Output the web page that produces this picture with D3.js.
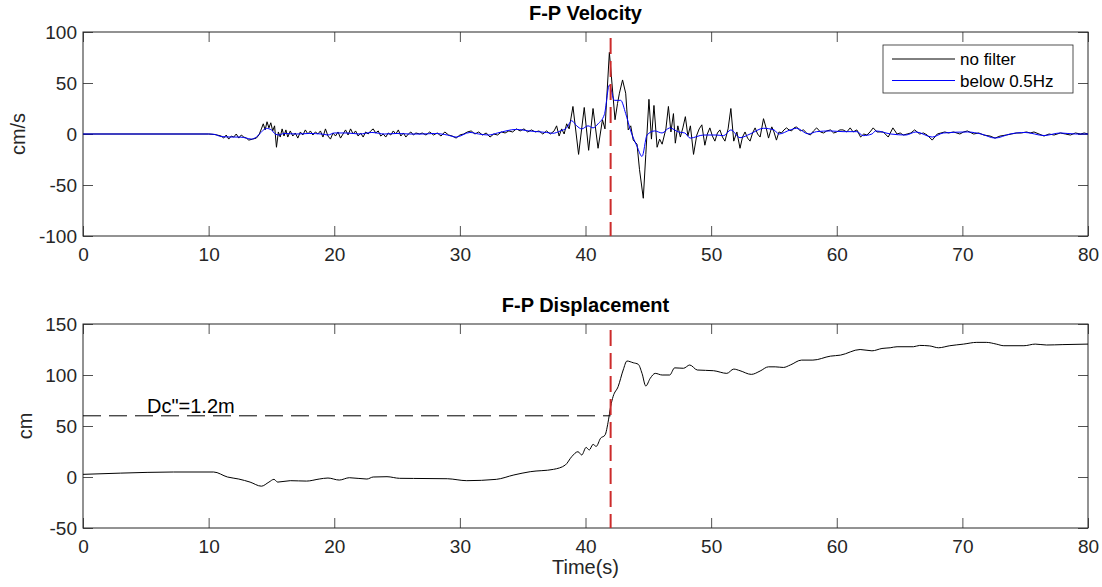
<!DOCTYPE html>
<html>
<head>
<meta charset="utf-8">
<script src="https://cdn.jsdelivr.net/npm/d3@7"></script>
<style>
  body { margin: 0; background: #fff; }
  svg { font-family: "Liberation Sans", Arial, Helvetica, sans-serif; }
</style>
</head>
<body>
<svg id="chart" width="1102" height="587"></svg>
<script>
// ---------------- data ----------------
const timeTicks = [0, 10, 20, 30, 40, 50, 60, 70, 80];
const velTicks = [-100, -50, 0, 50, 100];
const dispTicks = [-50, 0, 50, 100, 150];
const seriesNames = ["no filter", "below 0.5Hz"];
const pickTime = 42;     // red dashed line
const dcLevel = 60;      // Dc'' level, cm
const dcLabel = 'Dc"=1.2m';

// [time s, velocity cm/s], unfiltered
const rawVelocity = [
  [0,0],[10,0],[10.5,-0.5],[11,-2],[11.2,-4],[11.4,-1],[11.6,-5],[11.8,-2],[12.0,-3],[12.2,0],
  [12.4,-4],[12.6,-1],[12.8,-3],[13.0,-4],[13.2,-6],[13.5,-5],[13.8,-4],[14.0,-1],[14.2,5],[14.35,10],
  [14.5,4],[14.65,12],[14.8,6],[14.95,11],[15.1,3],[15.25,8],[15.4,-13],[15.55,2],[15.7,-3],[15.85,5],
  [16.0,-2],[16.15,4],[16.3,-3],[16.5,3],[16.7,-2],[16.9,1],[17.1,-4],[17.3,2],[17.5,-1],[17.7,4],
  [17.9,0],[18.1,3],[18.3,-1],[18.5,2],[18.7,0],[18.9,3],[19.1,-3],[19.3,5],[19.5,-2],[19.7,-5],
  [19.9,1],[20.1,-2],[20.3,2],[20.5,-4],[20.7,0],[20.9,4],[21.1,-1],[21.3,5],[21.5,0],[21.7,3],
  [21.9,-2],[22.1,1],[22.3,-3],[22.5,2],[22.7,0],[22.9,3],[23.1,5],[23.3,1],[23.5,3],[23.7,-2],
  [23.9,0],[24.1,-3],[24.3,1],[24.5,-1],[24.7,3],[24.9,0],[25.1,4],[25.3,-2],[25.5,1],[25.7,-3],
  [25.9,0],[26.1,2],[26.3,-1],[26.5,1],[26.8,0],[27.0,1],[27.3,-1],[27.6,2],[27.9,-1],[28.2,1],
  [28.5,-2],[28.8,2],[29.1,-1],[29.4,-2],[29.7,-4],[30.0,-1],[30.3,0],[30.6,2],[30.9,3],[31.2,0],
  [31.5,2],[31.8,-1],[32.1,1],[32.4,-3],[32.7,0],[33.0,-1],[33.3,2],[33.6,1],[33.9,3],[34.2,2],
  [34.5,5],[34.8,3],[35.1,5],[35.4,2],[35.7,4],[36.0,2],[36.3,3],[36.6,0],[36.9,3],[37.2,0],
  [37.5,3],[37.7,8],[37.9,-2],[38.1,5],[38.3,0],[38.5,10],[38.7,5],[39.0,27],[39.45,-20],[39.9,26],
  [40.25,-16],[40.6,25],[41.0,-14],[41.35,14],[41.55,5],[41.9,80],[42.35,14],[42.55,30],[42.7,40],[42.95,53],
  [43.2,40],[43.4,4],[43.6,8],[43.8,-6],[44.1,-10],[44.3,-35],[44.6,-63],[44.8,-20],[45.05,34],[45.25,-5],
  [45.45,28],[45.7,-13],[45.9,-5],[46.1,-10],[46.4,5],[46.6,27],[46.8,2],[47.0,20],[47.15,-9],[47.35,8],
  [47.55,-3],[47.75,6],[47.95,17],[48.15,-2],[48.35,8],[48.6,-20],[48.86,-1],[49.05,5],[49.26,9],[49.5,-11],
  [49.7,0],[49.9,6],[50.1,-2],[50.3,-7],[50.5,1],[50.7,4],[50.9,-3],[51.1,-7],[51.35,5],[51.57,25],
  [51.8,-7],[52.05,2],[52.3,-14],[52.5,-3],[52.7,2],[52.9,-4],[53.1,-7],[53.3,1],[53.5,6],[53.7,0],
  [53.9,-3],[54.17,15],[54.4,5],[54.57,-4],[54.83,7],[55.0,2],[55.2,-6],[55.4,2],[55.6,1],[55.8,4],
  [56.0,6],[56.2,4],[56.4,3],[56.6,6],[56.8,7],[57.1,3],[57.35,4],[57.6,1],[57.9,-1],[58.15,3],
  [58.4,6],[58.7,2],[58.95,1],[59.2,3],[59.5,4],[59.75,1],[60.0,2],[60.25,4],[60.5,4],[60.8,2],
  [61.07,6],[61.3,2],[61.6,4],[61.9,-3],[62.15,0],[62.4,-1],[62.65,2],[62.9,6],[63.2,2],[63.5,2],
  [63.7,2],[64.1,-3],[64.47,6],[64.8,0],[65.05,1],[65.3,-1],[65.6,0],[65.9,1],[66.2,4],[66.6,0],
  [66.9,1],[67.2,-1],[67.6,-6],[68.0,0],[68.3,1],[68.6,2],[68.9,1],[69.3,2],[69.8,0],[70.1,2],
  [70.4,3],[70.9,0],[71.3,1],[71.7,-1],[72.2,-2],[72.6,-4],[73.0,-2],[73.5,-1],[73.9,0],[74.3,1],
  [74.7,1],[75.1,2],[75.4,1],[75.7,2],[76.1,0],[76.5,-2],[76.9,0],[77.3,-1],[77.8,1],[78.2,0],
  [78.6,-1],[79.0,1],[79.4,0],[79.7,1],[80,0]
];

// [time s, velocity cm/s], low-passed below 0.5 Hz
const lowVelocity = [
  [0,0],[10,0],[10.5,-0.5],[11,-2.5],[12,-3],[12.5,-3],[13,-4],[13.4,-5],[13.8,-3],[14.2,2],
  [14.6,5.5],[15.0,4],[15.3,0],[15.6,-1],[16,0.5],[17,0],[18,0.5],[19,0],[19.5,-1],[20,1],
  [21,1],[22,0],[23,1.5],[24,0],[25,0.5],[26,0],[27,0],[28,0.5],[29,-1],[29.7,-3],
  [30.8,1.5],[31.5,0],[32.3,-1],[33,1],[34.5,4.5],[35.5,3],[36.9,1.5],[37.4,0.7],[38,3],[38.5,6],
  [38.9,13],[39.3,8],[39.7,5],[40.2,8],[40.6,6],[41.0,10],[41.5,19],[41.9,48],[42.3,33],[42.8,33],
  [43.2,20],[43.6,3],[44.1,-12],[44.5,-22],[44.9,-1],[45.5,3],[46.1,1],[46.7,6],[47.4,2],[47.9,1],
  [48.33,-4],[49.4,-1],[50.4,-1],[51.0,-1.6],[51.57,4],[52.3,-3.6],[53.1,0],[54.17,5.6],[55.0,4],[55.4,0],
  [56.3,4],[56.8,5.6],[57.75,0],[58.4,2.3],[59.5,3],[60.5,2.3],[61.6,2.3],[62.1,-1.6],[62.8,0],[63.1,3],
  [64.3,0],[65.5,-1],[66.3,2],[67.6,-3],[68.5,1],[70.4,2],[71.5,0],[72.6,-4],[73.8,0],[75,1.5],
  [76.5,-1.5],[77.8,1],[79,0],[80,0]
];

// [time s, displacement cm]
const displacement = [
  [0,2.6],[3,3.8],[7.2,4.9],[10.4,4.9],[11.5,0],[12.4,-2],[13.3,-5],[14.2,-9],[14.8,-5],[15.2,-2.3],
  [15.5,-5],[16.5,-3.6],[17.8,-4],[18.8,-2],[19.5,-1],[20.4,-3],[21.2,-0.7],[22.6,-2],[23.1,0],[24.2,0.3],
  [25.2,-1.3],[26.3,-1.4],[29,-1.7],[30.55,-3.6],[32.9,-2.3],[34.3,2],[35.6,5.2],[37.45,7.5],[38.4,11.8],[38.9,19.9],
  [39.4,24.8],[39.7,21.6],[40.05,29],[40.3,26.5],[40.6,32],[40.85,30],[41.2,38],[41.55,41],[41.83,56],[42.0,69],
  [42.2,79],[42.6,88.7],[43.0,104.9],[43.3,113.7],[43.8,112],[44.2,110.5],[44.5,101.6],[44.8,89.2],[45.15,96.7],[45.55,101.6],
  [46.1,100],[46.7,100],[47.1,107],[47.8,106.6],[48.3,109.8],[48.9,104.9],[50.2,104.2],[51.25,101.6],[51.8,105.8],[52.3,104.2],
  [53.2,100.6],[53.9,103.9],[54.56,108],[55.1,108],[55.75,107.4],[56.3,109.8],[57.2,114.6],[58.1,114.6],[59.5,118.5],[60.3,119.5],
  [61.86,125],[62.8,123.7],[63.6,126],[64.25,126.7],[64.8,127.7],[66.1,127.7],[66.6,129],[67.4,128.5],[68.1,126.7],[69.0,128.7],
  [70.1,130.3],[71.15,132],[71.9,132],[72.7,130.3],[73.3,128.7],[74.9,128.7],[75.8,130.3],[76.7,129.4],[78.0,129.8],[80,130.3]
];

// ---------------- layout ----------------
const left = 83, right = 1088;
const axisColor = "#262626";
const svg = d3.select("#chart");

const x = d3.scaleLinear().domain([0, 80]).range([left, right]);
const yVel = d3.scaleLinear().domain([-100, 100]).range([236, 32]);
const yDisp = d3.scaleLinear().domain([-50, 150]).range([528, 324]);

const plain = d => String(d);   // keep "-" instead of the unicode minus

function drawFrame(y, yTicks, title, ylabel, ylabelX) {
  const top = y.range()[1], bottom = y.range()[0];
  const g = svg.append("g");

  // ticks point inward, like matlab
  g.append("g").attr("transform", "translate(0," + bottom + ")")
    .call(d3.axisBottom(x).tickValues(timeTicks).tickSize(-10).tickPadding(12).tickFormat(plain))
    .call(s => s.select(".domain").remove());
  g.append("g").attr("transform", "translate(0," + top + ")")
    .call(d3.axisTop(x).tickValues(timeTicks).tickSize(-10).tickFormat(""))
    .call(s => s.select(".domain").remove());
  g.append("g").attr("transform", "translate(" + left + ",0)")
    .call(d3.axisLeft(y).tickValues(yTicks).tickSize(-10).tickPadding(6).tickFormat(plain))
    .call(s => s.select(".domain").remove());
  g.append("g").attr("transform", "translate(" + right + ",0)")
    .call(d3.axisRight(y).tickValues(yTicks).tickSize(-10).tickFormat(""))
    .call(s => s.select(".domain").remove());

  g.selectAll(".tick line").attr("stroke", axisColor).attr("stroke-width", 0.8);
  g.selectAll(".tick text").attr("fill", axisColor).attr("font-size", 19)
    .attr("font-family", '"Liberation Sans", Arial, sans-serif');

  g.append("rect")
    .attr("x", left).attr("y", top)
    .attr("width", right - left).attr("height", bottom - top)
    .attr("fill", "none").attr("stroke", axisColor).attr("stroke-width", 1);

  svg.append("text")
    .attr("x", (left + right) / 2).attr("y", top - 12)
    .attr("text-anchor", "middle").attr("font-weight", "bold").attr("font-size", 20)
    .text(title);

  svg.append("text")
    .attr("transform", "translate(" + ylabelX + "," + (top + bottom) / 2 + ")rotate(-90)")
    .attr("text-anchor", "middle").attr("font-size", 20).attr("fill", axisColor)
    .text(ylabel);
}

drawFrame(yVel, velTicks, "F-P Velocity", "cm/s", 25);
drawFrame(yDisp, dispTicks, "F-P Displacement", "cm", 32);

// ---------------- velocity ----------------
const velLine = d3.line().x(d => x(d[0])).y(d => yVel(d[1]));
svg.append("path").datum(rawVelocity)
  .attr("d", velLine).attr("fill", "none").attr("stroke", "#000").attr("stroke-width", 1);
svg.append("path").datum(lowVelocity)
  .attr("d", velLine.curve(d3.curveMonotoneX)).attr("fill", "none")
  .attr("stroke", "#0000ff").attr("stroke-width", 1);

svg.append("line")
  .attr("x1", x(pickTime)).attr("x2", x(pickTime))
  .attr("y1", yVel(100)).attr("y2", yVel(-100))
  .attr("stroke", "#cc2b2b").attr("stroke-width", 2).attr("stroke-dasharray", "16,7")
  .attr("stroke-dashoffset", -6);

// legend
const lg = svg.append("g");
lg.append("rect").attr("x", 883).attr("y", 45).attr("width", 190).attr("height", 48)
  .attr("fill", "#fff").attr("stroke", axisColor).attr("stroke-width", 0.8);
const legendColors = ["#000", "#0000ff"];
seriesNames.forEach((name, i) => {
  const ly = 59 + i * 21.5;
  lg.append("line").attr("x1", 892).attr("x2", 955).attr("y1", ly).attr("y2", ly)
    .attr("stroke", legendColors[i]).attr("stroke-width", 1);
  lg.append("text").attr("x", 960).attr("y", ly + 6).attr("font-size", 17).attr("fill", "#000")
    .text(name);
});

// ---------------- displacement ----------------
svg.append("line")
  .attr("x1", x(0)).attr("x2", x(pickTime))
  .attr("y1", yDisp(dcLevel)).attr("y2", yDisp(dcLevel))
  .attr("stroke", "#000").attr("stroke-width", 1).attr("stroke-dasharray", "18,8");

svg.append("path").datum(displacement)
  .attr("d", d3.line().x(d => x(d[0])).y(d => yDisp(d[1])).curve(d3.curveMonotoneX))
  .attr("fill", "none").attr("stroke", "#000").attr("stroke-width", 1);

svg.append("line")
  .attr("x1", x(pickTime)).attr("x2", x(pickTime))
  .attr("y1", yDisp(150)).attr("y2", yDisp(-50))
  .attr("stroke", "#cc2b2b").attr("stroke-width", 2).attr("stroke-dasharray", "16,7")
  .attr("stroke-dashoffset", -6);

svg.append("text")
  .attr("x", 147).attr("y", yDisp(dcLevel) - 3)
  .attr("font-size", 20).attr("fill", "#000")
  .text(dcLabel);

svg.append("text")
  .attr("x", (left + right) / 2).attr("y", 574)
  .attr("text-anchor", "middle").attr("font-size", 20).attr("fill", axisColor)
  .text("Time(s)");
</script>
</body>
</html>
